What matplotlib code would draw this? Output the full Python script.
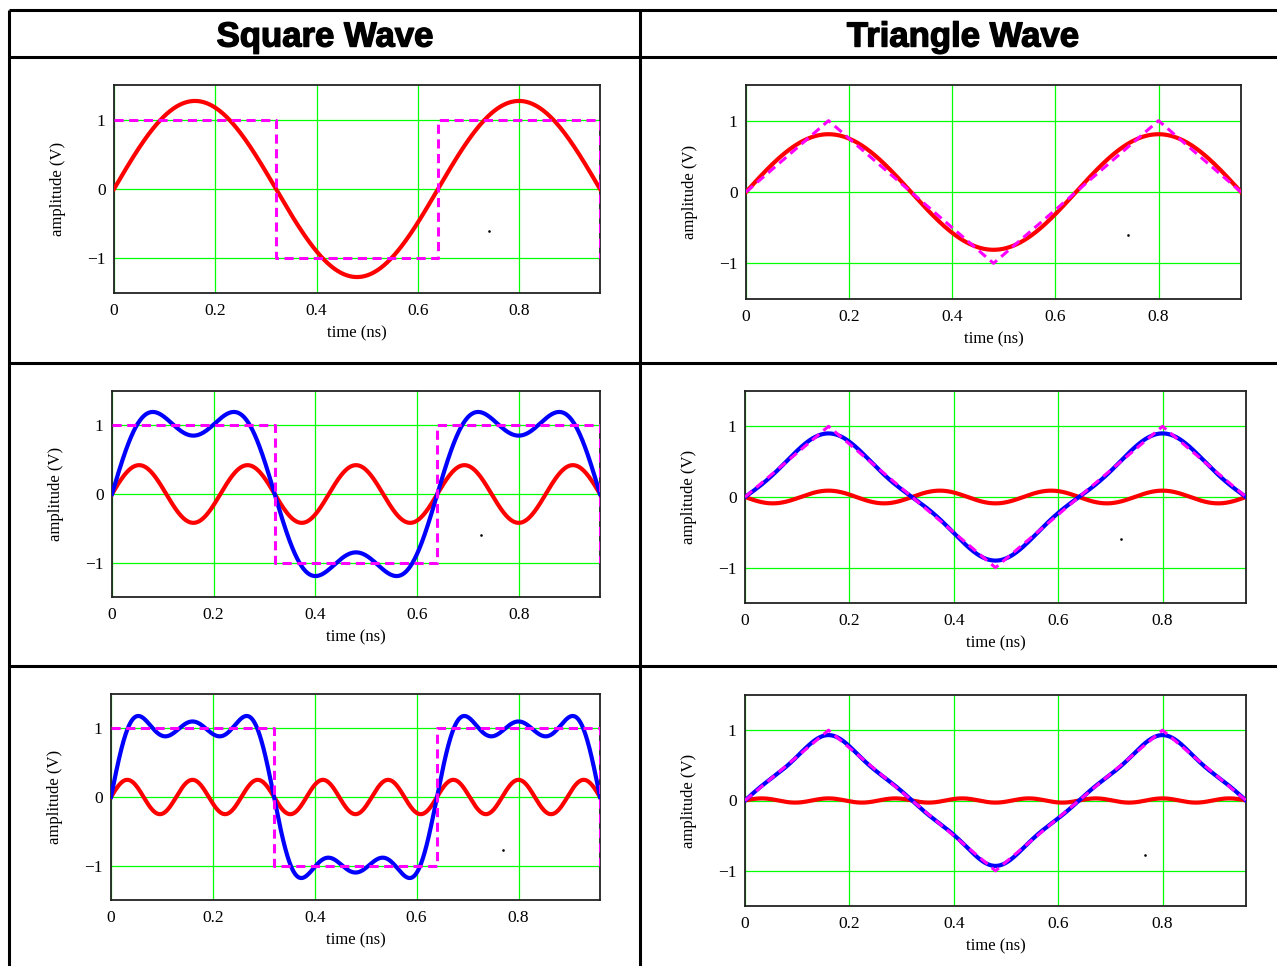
import numpy as np
import matplotlib.pyplot as plt
import matplotlib.patheffects as pe

W, H = 1277, 966  # canvas in pixels

# Fourier partial sums of a 0.64 ns square / triangle wave
period = 0.64  # ns
harmonics = [1, 3, 5]
square_amps = [1.27, 0.42, 0.25]
triangle_amps = [0.81, -0.09, 0.03]

# ideal waveforms
square_t = [0, 0.32, 0.32, 0.64, 0.64, 0.96, 0.96]
square_v = [1, 1, -1, -1, 1, 1, -1]
triangle_t = [0, 0.16, 0.48, 0.8, 0.96]
triangle_v = [0, 1, -1, 1, 0]

x_ticks = [0, 0.2, 0.4, 0.6, 0.8]
x_labels = ["0", "0.2", "0.4", "0.6", "0.8"]
y_ticks = [-1, 0, 1]
y_labels = ["\u22121", "0", "1"]

# little specks left in each plot
square_dots = [(0.74, -0.6), (0.725, -0.6), (0.77, -0.77)]
triangle_dots = [(0.74, -0.6), (0.72, -0.6), (0.767, -0.77)]

# axes boxes in pixels: left, top, right, bottom
boxes = {
    (0, 0): (114, 85, 600, 293),
    (0, 1): (746, 85, 1241, 299),
    (1, 0): (112, 391, 600, 597),
    (1, 1): (745, 391, 1246, 603),
    (2, 0): (111, 694, 600, 900),
    (2, 1): (745, 695, 1246, 906),
}

plt.rcParams['font.family'] = ['Liberation Serif', 'DejaVu Serif']

fig = plt.figure(figsize=(W / 100, H / 100), dpi=100)

# table grid and column headers
bg = fig.add_axes([0, 0, 1, 1], zorder=-1)
bg.set_xlim(0, W)
bg.set_ylim(H, 0)
bg.axis("off")
lw_tab = 2.2
for y in [10, 57, 363, 666]:
    bg.plot([9, W], [y, y], color="black", lw=lw_tab, solid_capstyle="butt")
for x in [9, 640]:
    bg.plot([x, x], [10, H], color="black", lw=lw_tab, solid_capstyle="butt")
for xc, title in [(325, "Square Wave"), (963, "Triangle Wave")]:
    bg.text(xc, 37, title, ha="center", va="center", fontsize=25,
            fontweight="bold", family="Liberation Sans",
            path_effects=[pe.withStroke(linewidth=1.0, foreground="black")])

t = np.linspace(0, 0.96, 1201)


def harmonic(amp, h):
    return amp * np.sin(2 * np.pi * h * t / period)


for (row, col), (l, tp, r, b) in boxes.items():
    ax = fig.add_axes([l / W, 1 - b / H, (r - l) / W, (b - tp) / H])
    ax.set_xlim(0, 0.96)
    ax.set_ylim(-1.5, 1.5)
    ax.set_xticks(x_ticks)
    ax.set_xticklabels(x_labels)
    ax.set_yticks(y_ticks)
    ax.set_yticklabels(y_labels)
    ax.tick_params(length=0, labelsize=12.5)
    ax.tick_params(axis="x", pad=7)
    ax.tick_params(axis="y", pad=6)
    ax.grid(True, color="#00ff00", lw=0.9)
    ax.set_axisbelow(True)
    for s in ax.spines.values():
        s.set_color("#222222")
        s.set_linewidth(1.3)

    amps = square_amps if col == 0 else triangle_amps
    red = harmonic(amps[row], harmonics[row])
    ax.plot(t, red, color="#ff0000", lw=3.0, zorder=3)
    if row > 0:
        blue = sum(harmonic(a, h) for a, h in zip(amps[:row + 1], harmonics[:row + 1]))
        ax.plot(t, blue, color="#0000ff", lw=3.0, zorder=4)

    if col == 0:
        ax.plot(square_t, square_v, color="#ff00ff", lw=2.2, dashes=(3, 1.8), zorder=5)
        dx, dy = square_dots[row]
    else:
        ax.plot(triangle_t, triangle_v, color="#ff00ff", lw=2.2, dashes=(3, 1.8), zorder=5)
        dx, dy = triangle_dots[row]
    ax.plot([dx], [dy], marker="s", ms=0.8, color="black", lw=0)

    hpx, wpx = b - tp, r - l
    ax.set_xlabel("time (ns)", fontsize=12)
    ax.xaxis.label.set_va("center")
    ax.xaxis.set_label_coords(0.5, -40 / hpx)
    ax.set_ylabel("amplitude (V)", fontsize=12)
    ax.yaxis.label.set_va("center")
    ax.yaxis.set_label_coords(-56 / wpx, 0.5)

fig.savefig("out.png", dpi=100)
